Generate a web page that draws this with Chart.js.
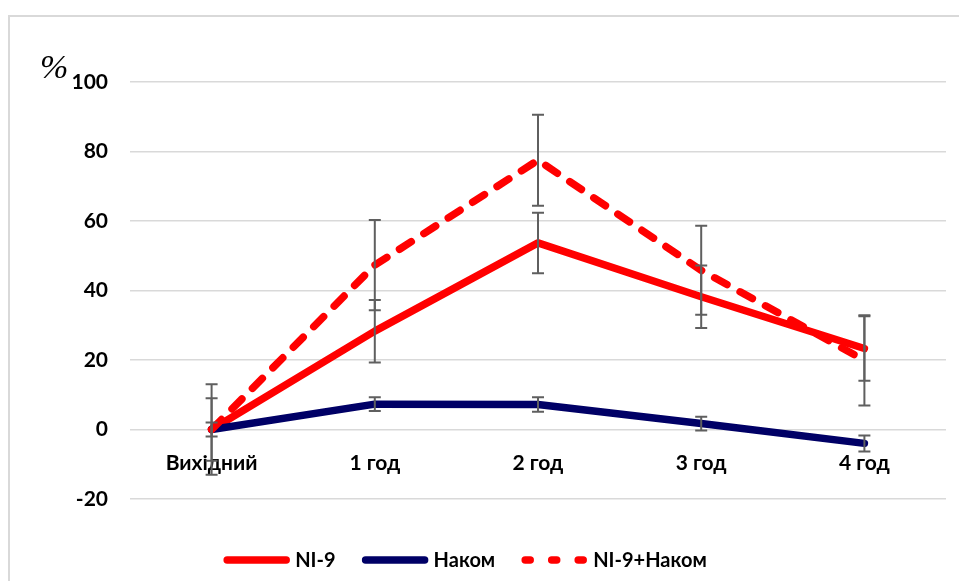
<!DOCTYPE html>
<html>
<head>
<meta charset="utf-8">
<script src="https://cdn.jsdelivr.net/npm/chart.js@4/dist/chart.umd.min.js"></script>
<style>
  html, body { margin: 0; padding: 0; background: #fff; }
  #wrap { width: 959px; height: 581px; position: relative; }
</style>
</head>
<body>
<div id="wrap"><canvas id="chart" width="959" height="581"></canvas></div>
<script>
// Time points
const categories = ['Вихідний', '1 год', '2 год', '3 год', '4 год'];

// Mean change, %
const ni9Values   = [0, 28.3, 53.7, 38.2, 23.3];
const nakomValues = [0, 7.3, 7.2, 1.7, -4.0];
const comboValues = [0, 47.3, 77.5, 45.8, 19.9];

// Error (±) for each point
const ni9Errors   = [9.0, 9.0, 8.7, 9.0, 9.3];
const nakomErrors = [2.0, 2.0, 2.1, 2.0, 2.3];
const comboErrors = [13.0, 13.0, 13.1, 12.8, 13.0];

// Y axis range and step
const yTicks = [-20, 0, 20, 40, 60, 80, 100];

const FONT_FAMILY = 'Lato, "Liberation Sans", sans-serif';
const BOLD_FONT = { family: FONT_FAMILY, size: 21, weight: 'bold' };

// Vertical error bars with caps, placed through the chart's own scales
const errorBarsPlugin = {
  id: 'errorBars',
  afterDatasetsDraw(chart) {
    const ctx = chart.ctx;
    const yScale = chart.scales.y;
    ctx.save();
    ctx.strokeStyle = '#5f5f5f';
    ctx.lineWidth = 2;
    ctx.lineCap = 'butt';
    chart.data.datasets.forEach((ds, di) => {
      const meta = chart.getDatasetMeta(di);
      if (!ds.errors) return;
      meta.data.forEach((pt, i) => {
        const v = ds.data[i];
        const e = ds.errors[i];
        const x = pt.x;
        const yHi = yScale.getPixelForValue(v + e);
        const yLo = yScale.getPixelForValue(v - e);
        const cap = 6;
        ctx.beginPath();
        ctx.moveTo(x, yHi); ctx.lineTo(x, yLo);
        ctx.moveTo(x - cap, yHi); ctx.lineTo(x + cap, yHi);
        ctx.moveTo(x - cap, yLo); ctx.lineTo(x + cap, yLo);
        ctx.stroke();
      });
    });
    ctx.restore();
  }
};

// Light frame around the chart and the "%" unit mark
const frameAndUnitPlugin = {
  id: 'frameAndUnit',
  beforeDraw(chart) {
    const ctx = chart.ctx;
    ctx.save();
    ctx.strokeStyle = '#d9d9d9';
    ctx.lineWidth = 2;
    ctx.beginPath();
    ctx.moveTo(9, chart.height);
    ctx.lineTo(9, 16);
    ctx.lineTo(chart.width, 16);
    ctx.stroke();
    ctx.restore();
  },
  afterDraw(chart) {
    const ctx = chart.ctx;
    ctx.save();
    ctx.fillStyle = '#000';
    ctx.font = 'italic 34px "Liberation Serif", "DejaVu Serif", serif';
    ctx.textAlign = 'left';
    ctx.textBaseline = 'middle';
    ctx.fillText('%', 40, 69);
    ctx.restore();
  }
};

// Series key drawn under the plot
const seriesKeyPlugin = {
  id: 'seriesKey',
  afterDraw(chart) {
    const ctx = chart.ctx;
    const y = 560;
    const lineLen = 59;
    const textGap = 9;
    const itemGap = 30;
    const centerX = 467;
    ctx.save();
    ctx.font = 'bold 20px ' + FONT_FAMILY;
    const items = chart.data.datasets.map(ds => ({ ds, w: ctx.measureText(ds.label).width }));
    let total = 0;
    items.forEach((it, i) => {
      total += lineLen + textGap + it.w + (i < items.length - 1 ? itemGap : 0);
    });
    let x = centerX - total / 2;
    items.forEach(it => {
      const ds = it.ds;
      ctx.strokeStyle = ds.borderColor;
      ctx.lineWidth = ds.borderWidth;
      ctx.lineCap = 'round';
      ctx.setLineDash(ds.keyDash || []);
      ctx.beginPath();
      ctx.moveTo(x, y);
      ctx.lineTo(x + lineLen, y);
      ctx.stroke();
      ctx.setLineDash([]);
      ctx.fillStyle = '#000';
      ctx.textAlign = 'left';
      ctx.textBaseline = 'middle';
      ctx.fillText(ds.label, x + lineLen + textGap, y + 1);
      x += lineLen + textGap + it.w + itemGap;
    });
    ctx.restore();
  }
};

const lineCommon = {
  borderWidth: 7.5,
  borderCapStyle: 'round',
  borderJoinStyle: 'round',
  pointRadius: 0,
  pointHoverRadius: 0,
  tension: 0,
  fill: false
};

new Chart(document.getElementById('chart'), {
  type: 'line',
  data: {
    labels: categories,
    datasets: [
      Object.assign({}, lineCommon, {
        label: 'NI-9',
        data: ni9Values,
        errors: ni9Errors,
        borderColor: '#ff0000',
        order: 3
      }),
      Object.assign({}, lineCommon, {
        label: 'Наком',
        data: nakomValues,
        errors: nakomErrors,
        borderColor: '#000066',
        order: 2
      }),
      Object.assign({}, lineCommon, {
        label: 'NI-9+Наком',
        data: comboValues,
        errors: comboErrors,
        borderColor: '#ff0000',
        borderDash: [14, 15],
        keyDash: [5, 21.5],
        order: 1
      })
    ]
  },
  options: {
    responsive: false,
    animation: false,
    layout: { padding: { left: 10, right: 13, top: 82, bottom: 82 } },
    plugins: {
      legend: { display: false },
      tooltip: { enabled: false }
    },
    scales: {
      x: {
        type: 'category',
        offset: true,
        position: { y: 0 },
        grid: { display: false },
        border: { display: false },
        ticks: { font: BOLD_FONT, color: '#000', padding: 13, maxRotation: 0, autoSkip: false }
      },
      y: {
        min: yTicks[0],
        max: yTicks[yTicks.length - 1],
        afterBuildTicks(scale) { scale.ticks = yTicks.map(v => ({ value: v })); },
        afterFit(scale) { scale.width = 120; },
        grid: { color: '#d9d9d9', lineWidth: 1.5, drawTicks: false },
        border: { display: false },
        ticks: { font: BOLD_FONT, color: '#000', padding: 22 }
      }
    }
  },
  plugins: [frameAndUnitPlugin, errorBarsPlugin, seriesKeyPlugin]
});
</script>
</body>
</html>
